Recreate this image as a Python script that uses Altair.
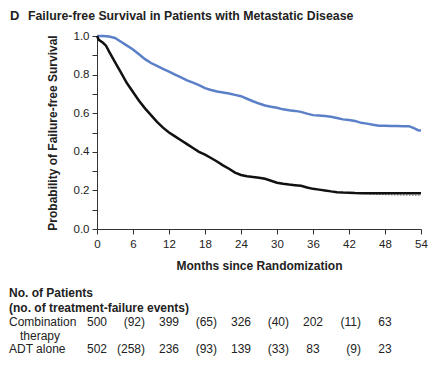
import altair as alt
import pandas as pd

# ---- Data ----
combo_months = [0, 1, 2, 3, 4, 5, 6, 7, 8, 9, 10, 11, 12, 13, 14, 15, 16, 17, 18, 19, 20,
                21, 22, 23, 24, 25, 26, 27, 28, 29, 30, 31, 32, 33, 34, 35, 36, 37, 38, 39,
                40, 41, 42, 43, 44, 45, 46, 47, 48, 49, 50, 51, 52, 53, 53.5, 54]
combo_surv = [1.0, 1.0, 0.997, 0.99, 0.97, 0.95, 0.93, 0.905, 0.88, 0.86, 0.845, 0.83, 0.815,
              0.80, 0.785, 0.77, 0.758, 0.745, 0.73, 0.72, 0.712, 0.707, 0.702, 0.695, 0.688,
              0.675, 0.662, 0.65, 0.64, 0.633, 0.628, 0.62, 0.615, 0.612, 0.607, 0.598, 0.59,
              0.588, 0.585, 0.582, 0.575, 0.568, 0.565, 0.56, 0.55, 0.546, 0.54, 0.535, 0.535,
              0.534, 0.534, 0.533, 0.533, 0.52, 0.512, 0.51]

adt_months = [0, 0.3, 1, 1.5, 2, 3, 4, 5, 6, 7, 8, 9, 10, 11, 12, 13, 14, 15, 16, 17, 18, 19,
              20, 21, 22, 23, 24, 25, 26, 27, 28, 29, 30, 31, 32, 33, 34, 35, 36, 37, 38, 39,
              40, 41, 42, 43, 44, 54]
adt_surv = [1.0, 0.98, 0.965, 0.95, 0.92, 0.865, 0.81, 0.755, 0.71, 0.665, 0.625, 0.59, 0.555,
            0.525, 0.5, 0.48, 0.46, 0.44, 0.42, 0.40, 0.385, 0.368, 0.35, 0.33, 0.312, 0.292,
            0.28, 0.273, 0.27, 0.266, 0.26, 0.25, 0.24, 0.234, 0.23, 0.227, 0.224, 0.215,
            0.208, 0.204, 0.20, 0.195, 0.191, 0.189, 0.188, 0.186, 0.185, 0.185]

# faint dotted fitted line visible under the ADT tail
adt_fit_months = [44, 46, 48, 50, 52, 54]
adt_fit_surv = [0.184, 0.18, 0.178, 0.176, 0.175, 0.174]

arms = ["Combination therapy", "ADT alone"]
arm_colors = ["#5b80c8", "#111111"]

# number at risk table
risk_months = [0, 12, 24, 36, 48]
combo_risk = ["500", "399", "326", "202", "63"]
adt_risk = ["502", "236", "139", "\u200783", "23"]
event_months = [6, 18, 30, 42]
combo_events = ["(92)", "(65)", "(40)", "(11)"]
adt_events = ["(258)", "(93)", "(33)", "(9)"]

x_ticks = [0, 6, 12, 18, 24, 30, 36, 42, 48, 54]
y_ticks = [0, 0.1, 0.2, 0.3, 0.4, 0.5, 0.6, 0.7, 0.8, 0.9, 1.0]

FONT = "Liberation Sans"
W, H = 324, 193

curves = pd.concat([
    pd.DataFrame({"month": combo_months, "surv": combo_surv, "arm": arms[0]}),
    pd.DataFrame({"month": adt_months, "surv": adt_surv, "arm": arms[1]}),
])
fit = pd.DataFrame({"month": adt_fit_months, "surv": adt_fit_surv})

x_enc = alt.X("month:Q", scale=alt.Scale(domain=[0, 54], nice=False, zero=False),
              axis=alt.Axis(values=x_ticks, title="Months since Randomization", format="d",
                            titleFont=FONT, titleFontSize=12, titleFontWeight="bold",
                            titleColor="#222", titlePadding=11,
                            labelFont=FONT, labelFontSize=11.5, labelColor="#222",
                            labelPadding=4, tickSize=5, tickColor="#333",
                            domainColor="#333", grid=False, labelFlush=False))

y_axis = alt.Axis(values=y_ticks, title="Probability of Failure-free Survival",
                  labelExpr="round(datum.value*10) % 2 == 0 ? format(datum.value, '.1f') : ''",
                  titleFont=FONT, titleFontSize=12, titleFontWeight="bold", titleColor="#222",
                  titlePadding=14, labelFont=FONT, labelFontSize=11.5, labelColor="#222",
                  labelPadding=3, tickSize=5, tickColor="#333", domainColor="#333",
                  grid=False)
y_enc = alt.Y("surv:Q", scale=alt.Scale(domain=[0, 1], nice=False), axis=y_axis)

fit_line = alt.Chart(fit).mark_line(strokeWidth=1, strokeDash=[1.5, 1.5], color="#777").encode(
    x=x_enc, y=y_enc)

lines = alt.Chart(curves).mark_line(strokeWidth=2.5, interpolate="linear").encode(
    x=x_enc,
    y=y_enc,
    color=alt.Color("arm:N", scale=alt.Scale(domain=arms, range=arm_colors), legend=None),
    detail="arm:N",
)

def row_text(months, labels, ypix, align, dx):
    df = pd.DataFrame({"month": months, "label": labels})
    return alt.Chart(df).mark_text(font=FONT, fontSize=12, color="#222", align=align,
                                   baseline="middle", dx=dx).encode(
        x=x_enc, y=alt.value(ypix), text="label:N")

table = [
    row_text(risk_months, combo_risk, 286, "center", 0),
    row_text(event_months, combo_events, 286, "right", 12),
    row_text(risk_months, adt_risk, 313, "center", 0),
    row_text(event_months, adt_events, 313, "right", 12),
]

def free_text(text, xpix, ypix, size=12, weight="normal"):
    return alt.Chart(pd.DataFrame({"t": [text]})).mark_text(
        font=FONT, fontSize=size, fontWeight=weight, color="#222", align="left",
        baseline="middle").encode(x=alt.value(xpix), y=alt.value(ypix), text="t:N")

labels = [
    free_text("D", -87, -20, 13, "bold"),
    free_text("Failure-free Survival in Patients with Metastatic Disease", -69, -20, 12.3, "bold"),
    free_text("No. of Patients", -88, 257, 12, "bold"),
    free_text("(no. of treatment-failure events)", -88, 272, 12, "bold"),
    free_text("Combination", -88, 286),
    free_text("therapy", -77, 300),
    free_text("ADT alone", -88, 313),
]

chart = alt.layer(fit_line, lines, *table, *labels).properties(
    width=W, height=H,
    autosize=alt.AutoSizeParams(type="none"),
    padding={"left": 89, "top": 28, "right": 7, "bottom": 130},
).configure_view(stroke=None)

chart.save("out.html", embed_options={"renderer": "svg", "actions": False})
